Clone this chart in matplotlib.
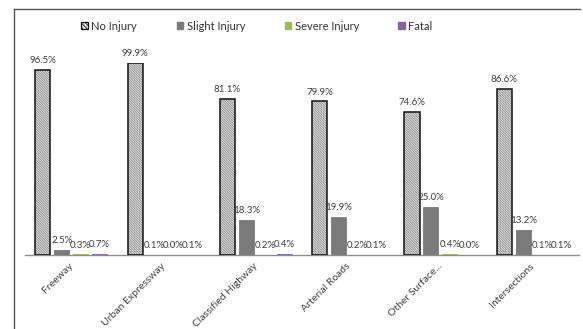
import matplotlib
matplotlib.use("Agg")
import matplotlib.pyplot as plt
import numpy as np
from matplotlib.lines import Line2D
from matplotlib.patches import Patch

plt.rcParams['font.family'] = ['Lato', 'DejaVu Sans']
plt.rcParams['hatch.linewidth'] = 0.6

categories = ["Freeway", "Urban Expressway", "Classified Highway",
              "Arterial Roads", "Other Surface...", "Intersections"]
series_names = ["No Injury", "Slight Injury", "Severe Injury", "Fatal"]
no_injury = [96.5, 99.9, 81.1, 79.9, 74.6, 86.6]
slight_injury = [2.5, 0.1, 18.3, 19.9, 25.0, 13.2]
severe_injury = [0.3, 0.0, 0.2, 0.2, 0.4, 0.1]
fatal = [0.7, 0.1, 0.4, 0.1, 0.0, 0.1]

series = [no_injury, slight_injury, severe_injury, fatal]
faces = ["#e6e6e6", "#7a7a7a", "#9bbb59", "#8064a2"]
HATCH = "\\" * 14

fig = plt.figure(figsize=(5.83, 3.29), dpi=100)
ax = fig.add_axes([0.0429, 0.225, 0.950, 0.584])

x = np.arange(len(categories))
step = 0.205
width = 0.163
for i, vals in enumerate(series):
    pos = x + (i - 1.5) * step
    if i == 0:
        # fine diagonal texture, then a black outline on top
        ax.bar(pos, vals, width=width, color=faces[0], edgecolor="#8a8a8a",
               linewidth=0, hatch=HATCH, zorder=2)
        ax.bar(pos, vals, width=width, fill=False, edgecolor="#111111",
               linewidth=1.1, zorder=3)
    else:
        ax.bar(pos, vals, width=width, color=faces[i], edgecolor=faces[i],
               linewidth=0.6, zorder=2)
    for px, v in zip(pos, vals):
        ax.text(px, v + 2.5, f"{v:.1f}%", ha="center", va="bottom",
                fontsize=7.0, color="#404040")

ax.set_xlim(-0.5, len(categories) - 0.5)
ax.set_ylim(0, 100)
for s in ["top", "right", "left"]:
    ax.spines[s].set_visible(False)
ax.spines["bottom"].set_color("#8c8c8c")
ax.spines["bottom"].set_linewidth(1.0)
ax.set_yticks([])
ax.set_xticks(x - 0.03)
ax.tick_params(axis="x", length=0, pad=4.5)
ax.set_xticklabels(categories, rotation=45, ha="right",
                   rotation_mode="anchor", fontsize=7.5, color="#404040")

# outer frame (left and top edges)
fig.add_artist(Line2D([14 / 583, 14 / 583], [0, 1 - 9 / 329],
                      color="#555555", lw=1.0))
fig.add_artist(Line2D([14 / 583, 580 / 583], [1 - 9 / 329, 1 - 9 / 329],
                      color="#555555", lw=1.0))

handles = [Patch(facecolor=faces[0], edgecolor="#111111", hatch="\\" * 8, lw=0.9),
           Patch(facecolor=faces[1], edgecolor=faces[1]),
           Patch(facecolor=faces[2], edgecolor=faces[2]),
           Patch(facecolor=faces[3], edgecolor=faces[3])]
fig.legend(handles, series_names, loc="center", ncol=4,
           bbox_to_anchor=(257 / 583, 1 - 26 / 329), frameon=False,
           fontsize=8.0, handlelength=0.6, handleheight=0.6,
           handletextpad=0.3, columnspacing=3.55, labelcolor="#333333")

fig.savefig("out.png", dpi=100)
